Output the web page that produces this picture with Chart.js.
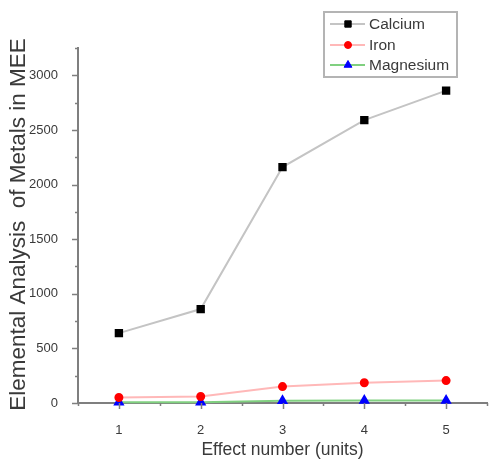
<!DOCTYPE html>
<html><head><meta charset="utf-8">
<script src="https://cdn.jsdelivr.net/npm/chart.js@4.4.1/dist/chart.umd.min.js"></script>
<style>html,body{margin:0;padding:0;background:#fff}#wrap{width:500px;height:468px}</style>
</head><body><div id="wrap"><canvas id="c" width="500" height="468"></canvas></div>
<script>
const effectNumbers = [1, 2, 3, 4, 5];
const calcium = [640, 860, 2160, 2590, 2860];
const iron = [50, 60, 150, 185, 205];
const magnesium = [8, 8, 20, 22, 22];
const yMajorTicks = [0, 500, 1000, 1500, 2000, 2500, 3000];
const xMajorTicks = [1, 2, 3, 4, 5];
const yTitle = 'Elemental Analysis  of Metals in MEE';
const xTitle = 'Effect number (units)';

const AXIS = '#7f7f7f';
const TXT = '#3a3a3a';
const FONT = '"Liberation Sans", Arial, sans-serif';

function pts(vals){ return effectNumbers.map((x,i)=>({x:x, y:vals[i]})); }

const tickPlugin = {
  id: 'ticksAndLegend',
  afterDraw(chart){
    const ctx = chart.ctx, xs = chart.scales.x, ys = chart.scales.y;
    const ax = ys.right, ay = xs.top;
    ctx.save();
    ctx.strokeStyle = AXIS; ctx.lineWidth = 1.5;
    for (let v = 0; v <= 3250; v += 250) {
      const p = Math.round(ys.getPixelForValue(v)) + 0.5;
      const len = (v % 500 === 0) ? 6 : 3;
      ctx.beginPath(); ctx.moveTo(ax - len, p); ctx.lineTo(ax, p); ctx.stroke();
    }
    for (let v = 0.5; v <= 5.5; v += 0.5) {
      const p = Math.round(xs.getPixelForValue(v)) + 0.5;
      const len = Number.isInteger(v) ? 6 : 3;
      ctx.beginPath(); ctx.moveTo(p, ay); ctx.lineTo(p, ay + len); ctx.stroke();
    }
    // y title
    ctx.save();
    ctx.translate(19, (ys.top + ys.bottom) / 2 - 1);
    ctx.rotate(-Math.PI / 2);
    ctx.fillStyle = TXT;
    ctx.font = '22.5px ' + FONT;
    ctx.textAlign = 'center'; ctx.textBaseline = 'middle';
    ctx.fillText(yTitle, 0, 0);
    ctx.restore();
    // legend
    const lx = 324, ly = 12, lw = 133, lh = 65;
    ctx.fillStyle = '#fff';
    ctx.fillRect(lx, ly, lw, lh);
    ctx.strokeStyle = '#b4b4b4'; ctx.lineWidth = 2;
    ctx.strokeRect(lx, ly, lw, lh);
    const rows = [24, 45, 65];
    chart.data.datasets.forEach((ds, i) => {
      const y = rows[i];
      ctx.strokeStyle = ds.borderColor; ctx.lineWidth = 2;
      ctx.beginPath(); ctx.moveTo(lx + 6, y); ctx.lineTo(lx + 41, y); ctx.stroke();
      ctx.fillStyle = ds.pointBackgroundColor;
      ctx.strokeStyle = ds.pointBorderColor; ctx.lineWidth = 1;
      Chart.helpers.drawPoint(ctx, {pointStyle: ds.pointStyle, radius: ds.pointRadius, borderWidth: 1}, lx + 24, y);
      ctx.fillStyle = TXT;
      ctx.font = '15.5px ' + FONT;
      ctx.textBaseline = 'middle'; ctx.textAlign = 'left';
      ctx.fillText(ds.label, lx + 45, y + 1);
    });
    ctx.restore();
  }
};

new Chart(document.getElementById('c'), {
  type: 'line',
  data: {
    datasets: [
      {label:'Calcium', data: pts(calcium), borderColor:'#c4c4c4', borderWidth:2,
       pointStyle:'rect', pointRadius:4.5, pointBackgroundColor:'#000', pointBorderColor:'#000', clip:false},
      {label:'Iron', data: pts(iron), borderColor:'#ffb8b8', borderWidth:2,
       pointStyle:'circle', pointRadius:3.5, pointBackgroundColor:'#ff0000', pointBorderColor:'#ff0000', clip:false},
      {label:'Magnesium', data: pts(magnesium), borderColor:'#80d080', borderWidth:2,
       pointStyle:'triangle', pointRadius:4.5, pointBackgroundColor:'#0000ff', pointBorderColor:'#0000ff', clip:false}
    ]
  },
  options: {
    responsive:false, animation:false,
    layout:{padding:{top:48, right:13, left:0, bottom:0}},
    plugins:{legend:{display:false}, tooltip:{enabled:false}},
    scales:{
      x:{type:'linear', min:0.5, max:5.5,
        afterBuildTicks(s){ s.ticks = xMajorTicks.map(v=>({value:v})); },
        afterFit(s){ s.height = 65; },
        grid:{display:false}, border:{display:true, color:AXIS, width:2},
        ticks:{color:TXT, font:{family:FONT, size:13}, padding:12, maxRotation:0, callback:v=>String(v)},
        title:{display:true, text:xTitle, color:TXT, font:{family:FONT, size:17.5}, padding:{top:0,bottom:7}}
      },
      y:{type:'linear', min:0, max:3250,
        afterBuildTicks(s){ s.ticks = yMajorTicks.map(v=>({value:v})); },
        afterFit(s){ s.width = 78; },
        grid:{display:false}, border:{display:true, color:AXIS, width:2},
        ticks:{color:TXT, font:{family:FONT, size:13}, padding:12, callback:v=>String(v)},
        title:{display:false}
      }
    }
  },
  plugins:[tickPlugin]
});
</script></body></html>
